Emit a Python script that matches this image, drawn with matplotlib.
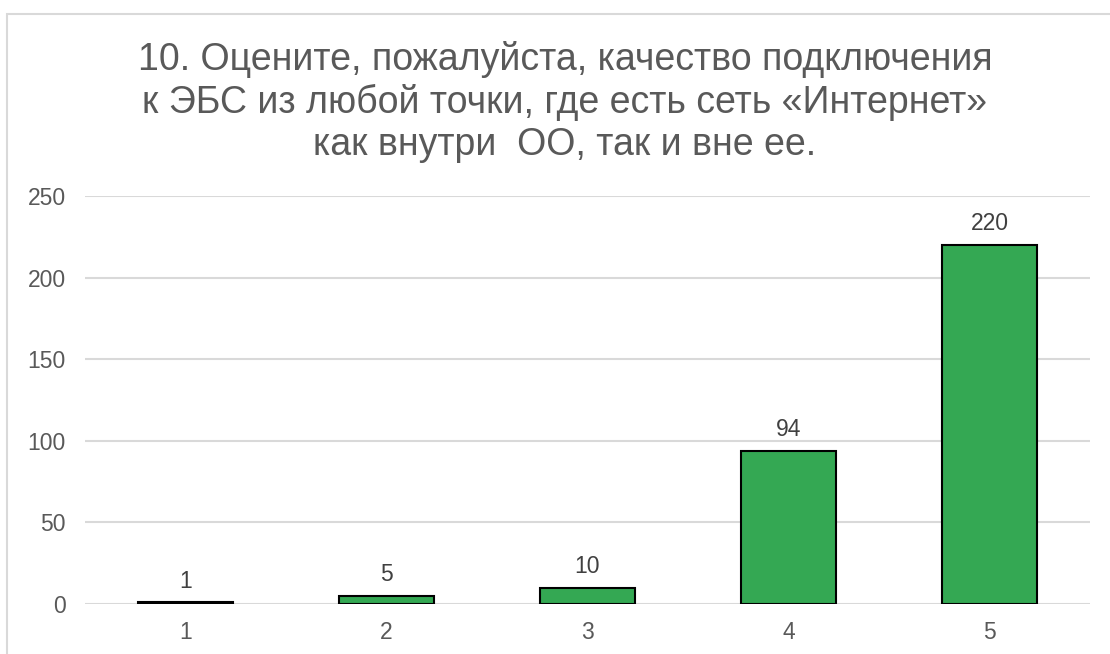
"""Bar chart: rating of EBS connection quality (survey question 10)."""
import matplotlib
matplotlib.use("Agg")
import matplotlib.pyplot as plt
from matplotlib.patches import Rectangle

categories = ["1", "2", "3", "4", "5"]
counts = [1, 5, 10, 94, 220]
yticks = [0, 50, 100, 150, 200, 250]
title = ("10. Оцените, пожалуйста, качество подключения\n"
         "к ЭБС из любой точки, где есть сеть «Интернет»\n"
         "как внутри  ОО, так и вне ее.")

plt.rcParams["font.family"] = ["Liberation Sans", "DejaVu Sans"]

W, H = 1110, 654
fig = plt.figure(figsize=(W / 100, H / 100), dpi=100)
fig.patch.set_facecolor("white")

# chart frame, cut off at right and bottom edges
fig.add_artist(Rectangle((7 / W, -0.1), 1.2, 0.1 + (1 - 14 / H),
                         transform=fig.transFigure, fill=False,
                         edgecolor="#d9d9d9", linewidth=1.5))

ax = fig.add_axes([85 / W, 1 - 604 / H, (1090 - 85) / W, (604 - 196) / H])
x = list(range(len(categories)))
bars = ax.bar(x, counts, width=0.47, color="#34a853",
              edgecolor="black", linewidth=1.5, zorder=3)

for rect, v in zip(bars, counts):
    ax.annotate(str(v), (rect.get_x() + rect.get_width() / 2, rect.get_height()),
                xytext=(0, 7), textcoords="offset points", ha="center", va="bottom",
                fontsize=16.5, color="#404040")

ax.set_xlim(-0.5, len(categories) - 0.5)
ax.set_ylim(0, 250)
ax.set_xticks(x, categories)
ax.set_yticks(yticks)
ax.grid(axis="y", color="#d9d9d9", linewidth=1.5, zorder=0)
ax.tick_params(length=0, labelsize=16.5, labelcolor="#595959")
ax.tick_params(axis="x", pad=12)
ax.tick_params(axis="y", pad=14)
for side in ("top", "right", "left", "bottom"):
    ax.spines[side].set_visible(False)

fig.text(565 / W, 1 - 102 / H, title, ha="center", va="center",
         fontsize=27, color="#595959", linespacing=1.22)

fig.savefig("out.png", dpi=100)
